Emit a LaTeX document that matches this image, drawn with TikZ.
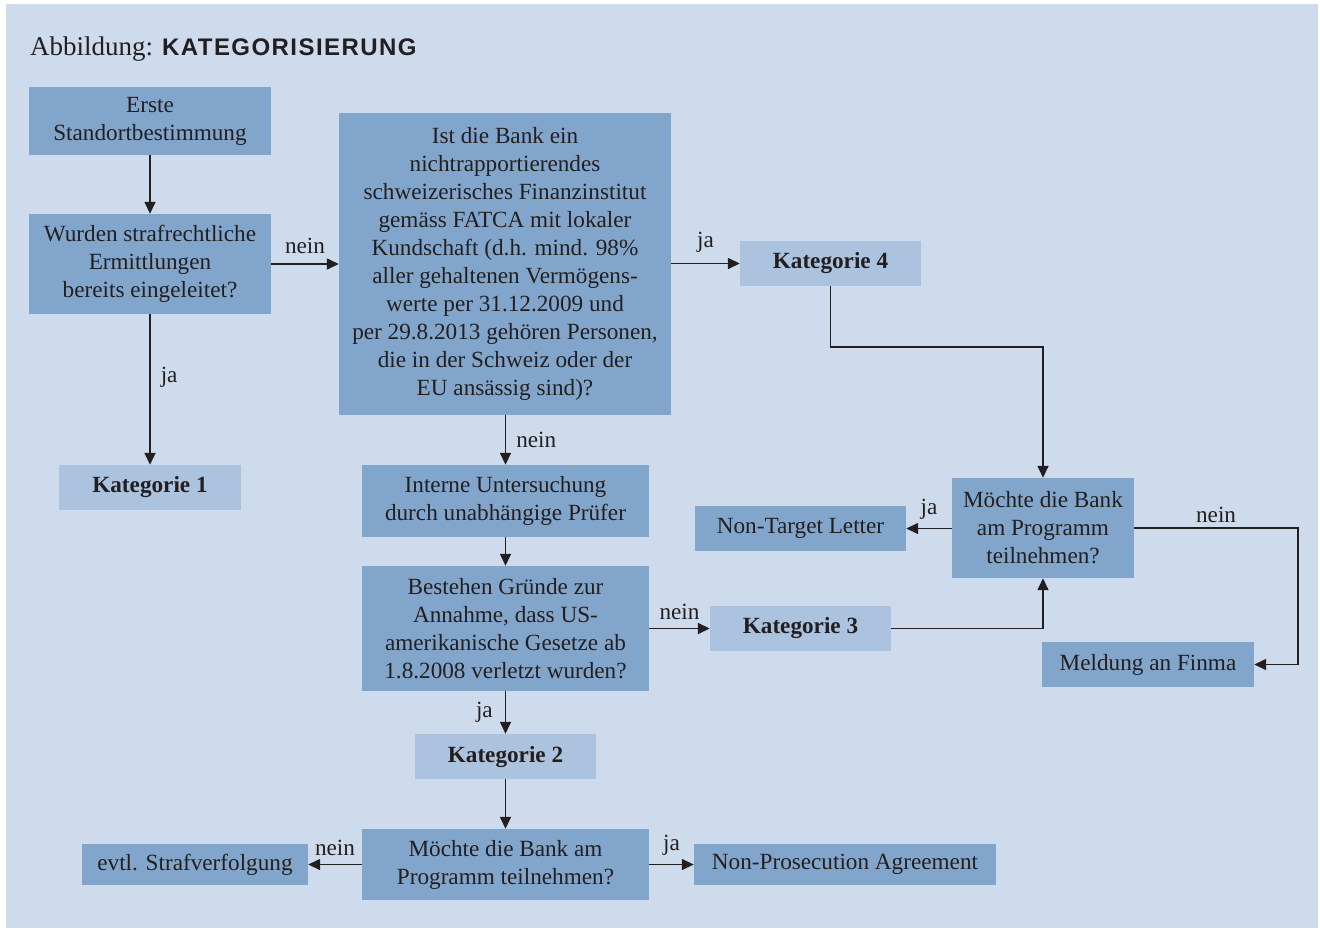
\documentclass[tikz,border=0pt]{standalone}
\usepackage{fontspec}
\setmainfont{Liberation Serif}
\newfontfamily\titlesans[LetterSpace=6]{Liberation Sans}
\usetikzlibrary{arrows.meta, positioning}
\definecolor{bgblue}{HTML}{CDDBEC}
\definecolor{boxdark}{HTML}{82A6CB}
\definecolor{boxlight}{HTML}{ABC3DE}
\definecolor{inkdark}{HTML}{231F20}

\tikzset{
  darkbox/.style={fill=boxdark, text=inkdark, align=center, inner sep=0pt,
    font=\fontsize{23.2}{28}\selectfont},
  lightbox/.style={darkbox, fill=boxlight, font=\fontsize{23.2}{28}\selectfont\bfseries},
  arr/.style={draw=inkdark, line width=1.5pt, -{Triangle[length=12pt,width=11pt]}},
  lbl/.style={text=inkdark, font=\fontsize{23.2}{26}\selectfont, inner sep=2pt}
}

\begin{document}
\begin{tikzpicture}[x=1pt,y=-1pt]
  \useasboundingbox (0,0) rectangle (1320,930);
  \fill[bgblue] (6,4) rectangle (1318,928);
  % title
  \node[anchor=base west, inner sep=0pt, text=inkdark] (title) at (30,55)
    {\fontsize{27}{30}\selectfont Abbildung: {\fontsize{24}{30}\selectfont\titlesans\bfseries KATEGORISIERUNG}};
  % left column
  \node[darkbox, minimum width=242pt, minimum height=68pt] (erste) at (150,121)
    {Erste\\Standortbestimmung};
  \node[darkbox, minimum width=242pt, minimum height=100pt] (wurden) at (150,264)
    {Wurden strafrechtliche\\Ermittlungen\\bereits eingeleitet?};
  \node[lightbox, minimum width=182pt, minimum height=45pt] (kat1) at (150,487.5)
    {Kategorie 1};
  % middle column
  \node[darkbox, minimum width=332pt, minimum height=302pt] (ist) at (505,264)
    {Ist die Bank ein\\nichtrapportierendes\\schweizerisches Finanzinstitut\\
     gemäss FATCA mit lokaler\\Kundschaft (d.h. mind. 98\%\\aller gehaltenen Vermögens-\\
     werte per 31.12.2009 und\\per 29.8.2013 gehören Personen,\\
     die in der Schweiz oder der\\EU ansässig sind)?};
  \node[darkbox, minimum width=287pt, minimum height=72pt] (interne) at (505.5,501)
    {Interne Untersuchung\\durch unabhängige Prüfer};
  \node[darkbox, minimum width=287pt, minimum height=125pt] (bestehen) at (505.5,628.5)
    {Bestehen Gründe zur\\Annahme, dass US-\\amerikanische Gesetze ab\\1.8.2008 verletzt wurden?};
  \node[lightbox, minimum width=181pt, minimum height=45pt] (kat2) at (505.5,756.5)
    {Kategorie 2};
  \node[darkbox, minimum width=287pt, minimum height=71pt] (bankB) at (505.5,864.5)
    {Möchte die Bank am\\Programm teilnehmen?};
  \node[darkbox, minimum width=226pt, minimum height=41pt] (evtl) at (195,864.5)
    {evtl. Strafverfolgung};
  \node[darkbox, minimum width=302pt, minimum height=41pt] (npa) at (845,864.5)
    {Non-Prosecution Agreement};
  % right column
  \node[lightbox, minimum width=181pt, minimum height=45pt] (kat4) at (830.5,263.5)
    {Kategorie 4};
  \node[lightbox, minimum width=181pt, minimum height=45pt] (kat3) at (800.5,628.5)
    {Kategorie 3};
  \node[darkbox, minimum width=182pt, minimum height=100pt] (bankR) at (1043,528)
    {Möchte die Bank\\am Programm\\teilnehmen?};
  \node[darkbox, minimum width=211pt, minimum height=45pt] (ntl) at (800.5,528.5)
    {Non-Target Letter};
  \node[darkbox, minimum width=212pt, minimum height=45pt] (finma) at (1148,664.5)
    {Meldung an Finma};
  % turning points
  \coordinate (bend4) at (830.5,347);
  \coordinate (bendF) at (1298,528);
  % connectors
  \draw[arr] (erste) -- (wurden);
  \draw[arr] (wurden) -- node[lbl, above=8pt]{nein} (ist);
  \draw[arr] (wurden) -- node[lbl, right=8pt, pos=0.42]{ja} (kat1);
  \draw[arr] (ist.east |- kat4) -- node[lbl, above=8pt]{ja} (kat4);
  \draw[arr] (ist.south -| interne) -- node[lbl, right=8pt]{nein} (interne);
  \draw[arr] (interne) -- (bestehen);
  \draw[arr] (bestehen) -- node[lbl, above=6pt]{nein} (kat3);
  \draw[arr] (bestehen) -- node[lbl, left=10pt]{ja} (kat2);
  \draw[arr] (kat2) -- (bankB);
  \draw[arr] (bankB) -- node[lbl, above=6pt]{nein} (evtl);
  \draw[arr] (bankB) -- node[lbl, above=6pt]{ja} (npa);
  \draw[arr] (kat4) -- (bend4) -| (bankR);
  \draw[arr] (kat3) -| (bankR);
  \draw[arr] (bankR.west |- ntl) -- node[lbl, above=6pt]{ja} (ntl);
  \draw[arr] (bankR.east |- bendF) -- node[lbl, above=3pt]{nein} (bendF) |- (finma);
\end{tikzpicture}
\end{document}
